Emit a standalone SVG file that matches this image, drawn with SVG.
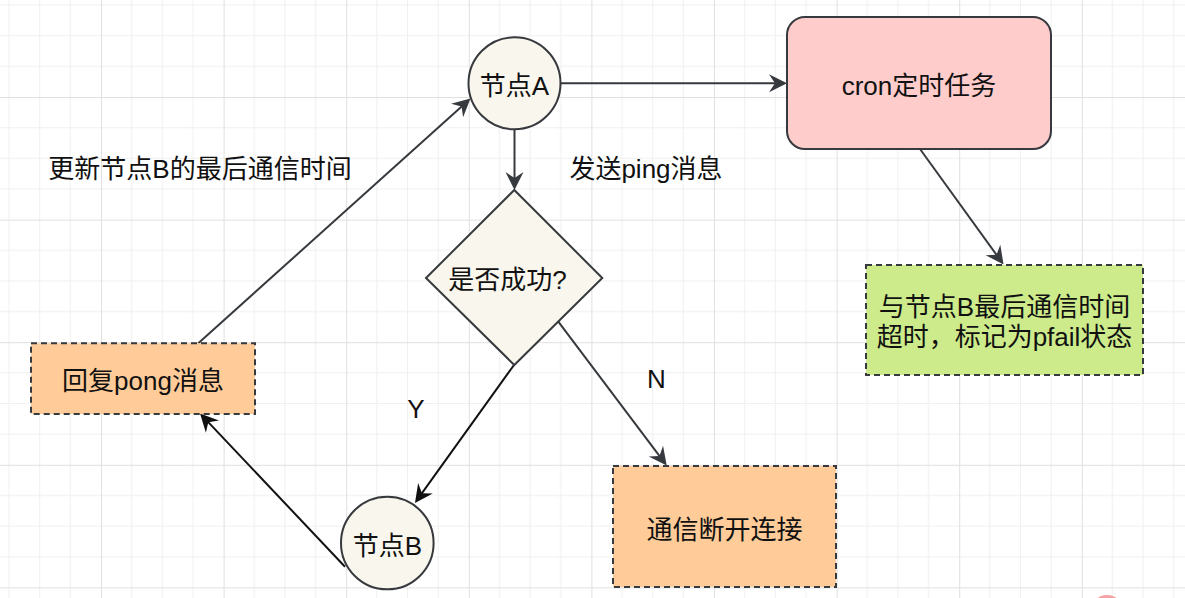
<svg xmlns="http://www.w3.org/2000/svg" width="1185" height="598" viewBox="0 0 1185 598">
  <defs>
    <pattern id="grid" patternUnits="userSpaceOnUse" x="-21.6" y="-25.6" width="122.6" height="122.6">
      <path d="M30.65 0V122.6M61.3 0V122.6M91.95 0V122.6M0 30.65H122.6M0 61.3H122.6M0 91.95H122.6" stroke="#f0f0f0" stroke-width="1" fill="none"/>
      <path d="M0.5 0V122.6M0 0.5H122.6" stroke="#e0e0e0" stroke-width="1" fill="none"/>
    </pattern>
    <marker id="arr" markerUnits="userSpaceOnUse" viewBox="-16 -11 22 22" refX="0" refY="0" markerWidth="22" markerHeight="22" orient="auto">
      <path d="M4 0L-14 -9L-8 0L-14 9Z" fill="#36393d"/>
    </marker>
    <marker id="arrk" markerUnits="userSpaceOnUse" viewBox="-16 -11 22 22" refX="0" refY="0" markerWidth="22" markerHeight="22" orient="auto">
      <path d="M4 0L-14 -9L-8 0L-14 9Z" fill="#111"/>
    </marker>
  </defs>
  <style>
    text { font-family: "Liberation Sans", "Noto Sans CJK SC", sans-serif; font-size: 26px; fill: #111; text-anchor: middle; }
    .node { stroke: #36393d; stroke-width: 2; }
    .circ { fill: #f9f7ed; }
    .dash { stroke-dasharray: 6 4; }
    .edge { fill: none; stroke: #36393d; stroke-width: 2; marker-end: url(#arr); }
    .edgek { fill: none; stroke: #111; stroke-width: 2; marker-end: url(#arrk); }
  </style>
  <rect x="0" y="0" width="1185" height="598" fill="#ffffff"/>
  <rect x="0" y="0" width="1185" height="598" fill="url(#grid)"/>

  <g id="connectors">
    <line class="edge" x1="561" y1="83.3" x2="783" y2="83.3"/>
    <line class="edge" x1="514.5" y1="129.5" x2="514.5" y2="186"/>
    <line class="edgek" x1="514" y1="365" x2="417.3" y2="499.7"/>
    <line class="edge" x1="558.3" y1="321.7" x2="664.3" y2="462.3"/>
    <line class="edgek" x1="345" y1="566.7" x2="202.8" y2="416.4"/>
    <line class="edge" x1="198.3" y1="343.3" x2="467.5" y2="101.2" stroke-width="1.6"/>
    <line class="edge" x1="920" y1="149" x2="1001.2" y2="261.3"/>
  </g>

  <g id="label-update">
    <text x="200" y="178">更新节点B的最后通信时间</text>
  </g>
  <g id="label-send">
    <text x="646" y="178">发送ping消息</text>
  </g>
  <g id="label-y">
    <text x="416" y="418">Y</text>
  </g>
  <g id="label-n">
    <text x="656.5" y="388">N</text>
  </g>

  <g id="node-a">
    <circle class="node circ" cx="514.5" cy="83.3" r="46"/>
    <text x="514.5" y="94.5">节点A</text>
  </g>
  <g id="node-cron">
    <rect class="node" x="787" y="17" width="264" height="132" rx="18" fill="#ffcccc"/>
    <text x="919" y="95">cron定时任务</text>
  </g>
  <g id="node-decision">
    <polygon class="node circ" points="514.3,190 602.3,278 514.3,365 426,278"/>
    <text x="507.5" y="288.5">是否成功?</text>
  </g>
  <g id="node-b">
    <circle class="node circ" cx="387.3" cy="543" r="46.3"/>
    <text x="387.3" y="554.5">节点B</text>
  </g>
  <g id="node-pong">
    <rect class="node dash" x="31" y="343.3" width="224" height="70.7" fill="#ffcc99"/>
    <text x="143" y="390">回复pong消息</text>
  </g>
  <g id="node-disconnect">
    <rect class="node dash" x="613" y="466" width="223" height="121" fill="#ffcc99"/>
    <text x="724.5" y="539">通信断开连接</text>
  </g>
  <g id="node-pfail">
    <rect class="node dash" x="866" y="265" width="277" height="110" fill="#cdeb8b"/>
    <text x="1004.5" y="315.5">与节点B最后通信时间</text>
    <text x="1004.5" y="346">超时，标记为pfail状态</text>
  </g>
  <ellipse cx="1107" cy="613" rx="17" ry="18" fill="#f4a3a3"/>
</svg>
